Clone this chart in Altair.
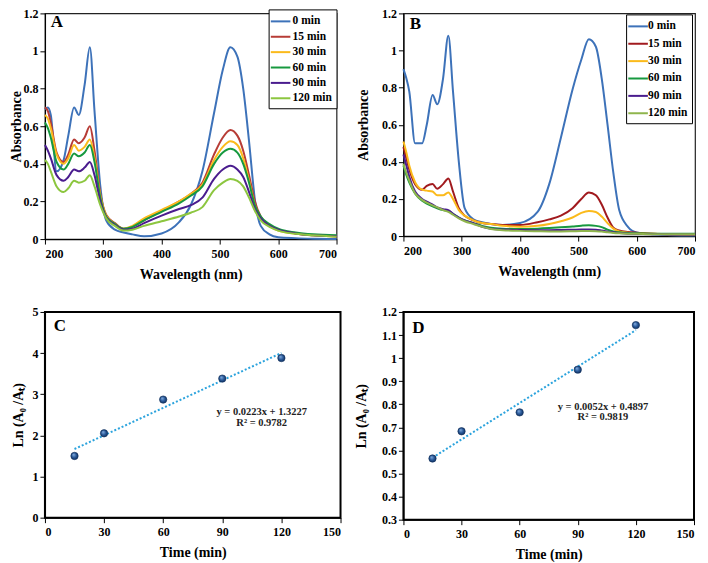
import altair as alt
import pandas as pd

FONT = "Liberation Serif, Times New Roman, serif"

# ---------------- data ----------------
wavelength = [200, 205, 210, 220, 232, 240, 250, 258, 268, 277, 285, 295, 305, 320, 335, 350,
              370, 400, 430, 450, 470, 490, 505, 518, 530, 540, 550, 560, 570, 585, 600, 630, 660, 700]

series_names = ["0 min", "15 min", "30 min", "60 min", "90 min", "120 min"]

# Panel A
A_0 = [0.69, 0.70, 0.66, 0.36, 0.42, 0.55, 0.70, 0.66, 0.82, 1.02, 0.68, 0.28, 0.10, 0.05, 0.035, 0.025,
       0.015, 0.03, 0.09, 0.18, 0.36, 0.67, 0.90, 1.02, 0.97, 0.80, 0.52, 0.21, 0.07, 0.025, 0.01, 0.005, 0.002, 0.0]
A_15 = [0.70, 0.68, 0.62, 0.46, 0.41, 0.45, 0.53, 0.51, 0.54, 0.60, 0.47, 0.24, 0.13, 0.085, 0.055, 0.065,
        0.10, 0.15, 0.20, 0.24, 0.30, 0.45, 0.54, 0.58, 0.55, 0.47, 0.34, 0.20, 0.12, 0.075, 0.05, 0.03, 0.02, 0.015]
A_30 = [0.66, 0.64, 0.59, 0.45, 0.40, 0.43, 0.50, 0.47, 0.49, 0.53, 0.43, 0.23, 0.125, 0.08, 0.055, 0.07,
        0.11, 0.155, 0.20, 0.24, 0.29, 0.42, 0.49, 0.52, 0.50, 0.43, 0.31, 0.18, 0.11, 0.07, 0.045, 0.028, 0.02, 0.013]
A_60 = [0.62, 0.59, 0.54, 0.41, 0.37, 0.40, 0.455, 0.44, 0.46, 0.50, 0.41, 0.22, 0.12, 0.08, 0.055, 0.065,
        0.10, 0.145, 0.19, 0.23, 0.28, 0.40, 0.46, 0.48, 0.46, 0.40, 0.30, 0.18, 0.12, 0.08, 0.055, 0.035, 0.025, 0.02]
A_90 = [0.50, 0.47, 0.43, 0.34, 0.31, 0.33, 0.37, 0.36, 0.38, 0.41, 0.34, 0.20, 0.115, 0.075, 0.05, 0.055,
        0.085, 0.125, 0.16, 0.18, 0.22, 0.32, 0.37, 0.39, 0.37, 0.33, 0.25, 0.16, 0.11, 0.07, 0.05, 0.03, 0.02, 0.015]
A_120 = [0.42, 0.40, 0.36, 0.28, 0.25, 0.27, 0.31, 0.30, 0.31, 0.34, 0.28, 0.18, 0.11, 0.07, 0.045, 0.05,
         0.07, 0.095, 0.12, 0.14, 0.17, 0.26, 0.30, 0.32, 0.31, 0.28, 0.22, 0.15, 0.10, 0.065, 0.045, 0.028, 0.02, 0.013]

# Panel B
B_0 = [0.90, 0.85, 0.78, 0.50, 0.50, 0.60, 0.76, 0.71, 0.85, 1.08, 0.78, 0.40, 0.15, 0.09, 0.075, 0.065,
       0.06, 0.07, 0.13, 0.28, 0.53, 0.79, 0.95, 1.06, 1.02, 0.85, 0.60, 0.34, 0.14, 0.05, 0.02, 0.01, 0.005, 0.003]
B_15 = [0.48, 0.42, 0.36, 0.28, 0.25, 0.27, 0.28, 0.255, 0.28, 0.31, 0.24, 0.15, 0.11, 0.085, 0.07, 0.065,
        0.06, 0.06, 0.075, 0.09, 0.11, 0.15, 0.20, 0.235, 0.22, 0.17, 0.10, 0.045, 0.03, 0.022, 0.018, 0.013, 0.01, 0.008]
B_30 = [0.51, 0.45, 0.38, 0.29, 0.25, 0.245, 0.24, 0.22, 0.22, 0.235, 0.20, 0.14, 0.11, 0.085, 0.07, 0.065,
        0.055, 0.05, 0.055, 0.065, 0.08, 0.10, 0.125, 0.135, 0.13, 0.105, 0.07, 0.04, 0.025, 0.018, 0.015, 0.012, 0.01, 0.008]
B_60 = [0.38, 0.33, 0.29, 0.23, 0.19, 0.175, 0.16, 0.15, 0.14, 0.135, 0.12, 0.10, 0.085, 0.07, 0.055, 0.045,
        0.04, 0.038, 0.04, 0.043, 0.047, 0.052, 0.056, 0.058, 0.055, 0.048, 0.035, 0.025, 0.02, 0.016, 0.015, 0.013, 0.012, 0.012]
B_90 = [0.44, 0.38, 0.32, 0.24, 0.20, 0.185, 0.17, 0.155, 0.145, 0.14, 0.12, 0.10, 0.085, 0.07, 0.05, 0.04,
        0.035, 0.033, 0.032, 0.032, 0.033, 0.034, 0.035, 0.035, 0.034, 0.03, 0.025, 0.02, 0.016, 0.013, 0.012, 0.01, 0.009, 0.008]
B_120 = [0.39, 0.34, 0.30, 0.23, 0.195, 0.18, 0.165, 0.155, 0.14, 0.13, 0.115, 0.095, 0.08, 0.065, 0.05, 0.038,
         0.032, 0.028, 0.026, 0.025, 0.025, 0.026, 0.027, 0.027, 0.026, 0.024, 0.02, 0.017, 0.015, 0.013, 0.012, 0.01, 0.01, 0.01]

# Panels C and D (kinetics)
time_min = [15, 30, 60, 90, 120]
C_ln = [1.50, 2.05, 2.87, 3.38, 3.88]
D_ln = [0.565, 0.683, 0.765, 0.950, 1.143]

colors_A = ["#3D72B9", "#B73C36", "#FBBA1B", "#17993F", "#4A1C8E", "#8CC63F"]
colors_B = ["#3D72B9", "#A11A1E", "#FBBA1B", "#17993F", "#4A1C8E", "#8FB54C"]

# annotation texts and their data positions
letters = ["A", "B", "C", "D"]
letter_x = [210, 211, 4.5, 4.5]
letter_y = [1.155, 1.145, 4.66, 1.13]
eqC = ["y = 0.0223x + 1.3227", "R² = 0.9782"]
eqC_x = [110, 110]
eqC_y = [2.58, 2.31]
eqD = ["y = 0.0052x + 0.4897", "R² = 0.9819"]
eqD_x = [103, 103]
eqD_y = [0.789, 0.744]

AXIS_TXT = dict(labelFont=FONT, labelFontWeight="bold", labelFontSize=12, labelColor="black",
                titleFont=FONT, titleFontWeight="bold", titleFontSize=14, titleColor="black",
                labelOverlap=False, grid=False)


def xaxis(values):
    return alt.Axis(values=values, labelPadding=4, tickSize=5, titleY=35, titleBaseline="middle",
                    **AXIS_TXT)


def yaxis(values, title_x):
    return alt.Axis(values=values, format="~g", labelPadding=2, tickSize=5,
                    titleX=title_x, titleBaseline="middle", titleAngle=270, **AXIS_TXT)


def text_layer(xs, ys, texts, size, align, color, xa, ya, xscale, yscale, xtitle, ytitle):
    df = pd.DataFrame({"x": xs, "y": ys, "s": texts})
    return alt.Chart(df).mark_text(font=FONT, fontWeight="bold", fontSize=size, align=align,
                                   baseline="middle", color=color).encode(
        x=alt.X("x:Q", title=xtitle, scale=xscale, axis=xa),
        y=alt.Y("y:Q", title=ytitle, scale=yscale, axis=ya),
        text="s:N")


def spectra_df(series_list):
    rows = []
    for k, (name, vals) in enumerate(zip(series_names, series_list)):
        for w, v in zip(wavelength, vals):
            rows.append({"wl": w, "abs": v, "series": name, "k": k})
    return pd.DataFrame(rows)


def spectra_panel(series_list, colors, letter_idx, w, h, title_x, legend_kw):
    df = spectra_df(series_list)
    xa = xaxis([200, 300, 400, 500, 600, 700])
    ya = yaxis([0, 0.2, 0.4, 0.6, 0.8, 1.0, 1.2], title_x)
    xs = alt.Scale(domain=[200, 700], nice=False)
    ys = alt.Scale(domain=[0, 1.2], nice=False)
    lines = alt.Chart(df).mark_line(strokeWidth=2, interpolate="monotone").encode(
        x=alt.X("wl:Q", title="Wavelength (nm)", scale=xs, axis=xa),
        y=alt.Y("abs:Q", title="Absorbance", scale=ys, axis=ya),
        color=alt.Color("series:N", sort=series_names,
                        scale=alt.Scale(domain=series_names, range=colors),
                        legend=alt.Legend(title=None, orient="none",
                                          labelFont=FONT, labelFontWeight="bold", labelFontSize=11.5,
                                          labelColor="black", symbolType="M-1.4,0H1.4",
                                          symbolStrokeWidth=2, symbolSize=196,
                                          strokeColor="black", fillColor="white", padding=4,
                                          cornerRadius=0, **legend_kw)),
        detail="series:N",
        order="k:Q",
    )
    letter = text_layer([letter_x[letter_idx]], [letter_y[letter_idx]], [letters[letter_idx]],
                        17, "left", "black", xa, ya, xs, ys, "Wavelength (nm)", "Absorbance")
    return alt.layer(lines, letter).properties(
        width=w, height=h, view=alt.ViewBackground(stroke="#222222", strokeWidth=1.2))


def kinetics_panel(yvals, ydomain, yticks, eq, eq_x, eq_y, letter_idx, w, h, title_x):
    df = pd.DataFrame({"t": time_min, "ln": yvals})
    ytitle = "Ln (A₀ /Aₜ)"
    xtitle = "Time (min)"
    xa = xaxis([0, 30, 60, 90, 120, 150])
    ya = yaxis(yticks, title_x)
    xs = alt.Scale(domain=[0, 150], nice=False)
    ys = alt.Scale(domain=ydomain, nice=False, zero=False)
    base = alt.Chart(df)
    x_enc = alt.X("t:Q", title=xtitle, scale=xs, axis=xa)
    y_enc = alt.Y("ln:Q", title=ytitle, scale=ys, axis=ya)
    trend = base.transform_regression("t", "ln").mark_line(
        color="#2BA3DD", strokeWidth=2, strokeDash=[2, 2]).encode(x=x_enc, y=y_enc)
    pts = base.mark_point(
        filled=True, size=55, opacity=1,
        color=alt.RadialGradient(gradient="radial", x1=0.35, y1=0.3, r1=0.0, x2=0.5, y2=0.5, r2=0.55,
                                 stops=[alt.GradientStop(color="#8DB6E6", offset=0),
                                        alt.GradientStop(color="#2A5A9A", offset=0.55),
                                        alt.GradientStop(color="#0E2D5A", offset=1)]),
        stroke="#0E2D5A", strokeWidth=0.6).encode(x=x_enc, y=y_enc)
    eqt = text_layer(eq_x, eq_y, eq, 10.5, "center", "#222222", xa, ya, xs, ys, xtitle, ytitle)
    letter = text_layer([letter_x[letter_idx]], [letter_y[letter_idx]], [letters[letter_idx]],
                        17, "left", "black", xa, ya, xs, ys, xtitle, ytitle)
    return alt.layer(trend, pts, eqt, letter).properties(
        width=w, height=h, view=alt.ViewBackground(stroke="black", strokeWidth=2))


pA = spectra_panel([A_0, A_15, A_30, A_60, A_90, A_120], colors_A, 0, 292, 226, -28,
                   dict(legendX=224, legendY=-4, rowPadding=1.4, labelOffset=4))
pB = spectra_panel([B_0, B_15, B_30, B_60, B_90, B_120], colors_B, 1, 292, 223, -40,
                   dict(legendX=223, legendY=1, rowPadding=3.4, labelOffset=2))
pC = kinetics_panel(C_ln, [0, 5], [0, 1, 2, 3, 4, 5], eqC, eqC_x, eqC_y, 2, 296, 206, -26)
pD = kinetics_panel(D_ln, [0.3, 1.2], [0.3, 0.4, 0.5, 0.6, 0.7, 0.8, 0.9, 1.0, 1.1, 1.2],
                    eqD, eqD_x, eqD_y, 3, 291, 208, -42)

top = alt.hconcat(pA, pB, spacing=14).resolve_scale(color="independent")
bottom = alt.hconcat(pC, pD, spacing=11)

chart = alt.vconcat(top, bottom, spacing=23).properties(
    padding={"left": 1, "top": -2, "right": 0, "bottom": 0}
).configure(font=FONT).configure_axis(
    domainColor="black", tickColor="black", domainWidth=1.2, labelOverlap=False,
)

chart.save("out.html", embed_options={"renderer": "svg", "actions": False})
